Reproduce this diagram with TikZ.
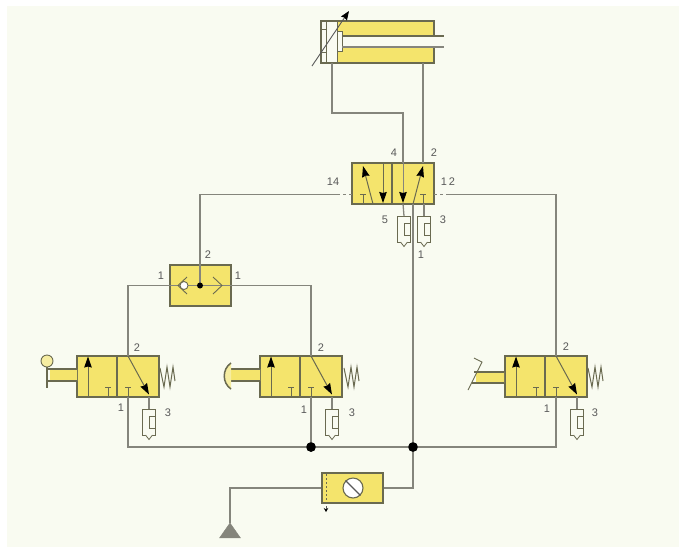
\documentclass[tikz,border=0pt]{standalone}
\usepackage{fontspec}
\setmainfont{Liberation Sans}
\usepackage{xcolor}
\usepackage{tikz}
\usetikzlibrary{arrows.meta}
\usetikzlibrary{shapes.geometric}
\definecolor{panelbg}{HTML}{F9FBF1}
\definecolor{valveyellow}{HTML}{F4E46C}
\definecolor{valveline}{HTML}{6A6A50}
\definecolor{pipegray}{HTML}{85857C}
\tikzset{pipe/.style={draw=pipegray, line width=1.3pt},
         box/.style={draw=valveline, fill=valveyellow, line width=1.2pt, inner sep=0pt},
         flow/.style={draw=valveline, line width=1pt, -{Stealth[length=11pt,width=7.5pt,inset=1pt,black]}},
         thin part/.style={draw=valveline, line width=0.9pt},
         num/.style={font=\fontsize{11}{12}\selectfont, text=black!65, inner sep=0pt},
         junction/.style={circle, fill=black, inner sep=0pt, minimum size=9.5pt},
         % 3/2 valve, placed by the left end of its middle line
         valve three/.pic={
           \node[box, minimum width=82pt, minimum height=41pt] (-box) at (41,0) {};
           \draw[thin part, line width=1.2pt] (40,-20.5) -- (40,20.5);
           \draw[flow] (11,20.5) -- (11,-20);
           \draw[thin part] (31,20.5) -- (31,10.5) (28,10.5) -- (34,10.5);
           \draw[thin part] (51,20.5) -- (51,10.5) (48,10.5) -- (54,10.5);
           \draw[flow] (51,-20.5) -- (72,18);
           \coordinate (-p2) at (51,-20.5);
           \coordinate (-p1) at (51,20.5);
           \coordinate (-p3) at (72,20.5);
         },
         % silencer on an exhaust port, placed by its upper middle
         exhaust/.pic={
           \node[draw=valveline, fill=panelbg, line width=0.8pt, minimum width=13pt, minimum height=26pt, inner sep=0pt] (-box) at (0,13) {};
           \draw[thin part, line width=0.8pt] (6.5,7) -- (0,7) -- (0,19) -- (6.5,19);
           \draw[thin part, line width=0.8pt, fill=panelbg] (-3.5,26) -- (0,30.5) -- (3.5,26);
           \coordinate (-top) at (0,0);
         },
         spring/.pic={
           \draw[thin part, line width=1pt] (0,-9) -- (4,10) -- (7,-10) -- (10,10) -- (13,-10) -- (15,4);
         }}

\begin{document}
\begin{tikzpicture}[x=1pt, y=-1pt]
  \useasboundingbox (0,0) rectangle (679,547);
  \fill[white] (0,0) rectangle (679,547);
  \fill[panelbg] (7,6) rectangle (679,547);

  % cylinder
  \fill[valveyellow] (337,21) rectangle (434,36) (337,47) rectangle (434,63);
  \node[box, fill=none, minimum width=113pt, minimum height=42pt] (cyl) at (377.5,42) {};
  \fill[panelbg] (338,36.5) rectangle (435,46.5);
  \draw[thin part] (337,21) -- (337,63) (326,21) -- (326,63) (321,29) -- (326,29) (321,52) -- (326,52);
  \draw[thin part, fill=panelbg] (337,31) rectangle (342,51);
  \draw[thin part, line width=1.2pt] (342,36) -- (444,36);
  \draw[pipe, line width=1.8pt] (342,47) -- (444,47);
  \draw[thin part, draw=black!65, -{Stealth[length=9pt,width=7pt,inset=1pt,black]}] (312,66) -- (349,11);

  % main valve
  \node[box, minimum width=82pt, minimum height=41pt] (main) at (393,183.5) {};
  \draw[thin part, line width=1.2pt] (392,163) -- (392,204);
  \draw[flow] (373,204) -- (363,166);
  \draw[flow] (383,163) -- (383,203);
  \draw[flow] (413,204) -- (423,166);
  \draw[thin part] (363,204) -- (363,194) (360,194) -- (366,194);
  \draw[thin part] (423,204) -- (423,194) (420,194) -- (426,194);
  \coordinate (main4) at (403,163);
  \coordinate (main2) at (423,163);
  \coordinate (main1) at (413,204);
  \coordinate (main5) at (403,204);
  \coordinate (main3) at (424,204);
  \coordinate (pilotL) at (352,194.5);
  \coordinate (pilotR) at (434,194.5);
  \coordinate (pilotLa) at (337,194.5);
  \coordinate (pilotRa) at (446,194.5);
  \pic (exfive) at (404,216) {exhaust};
  \pic (exthree) at (424,216) {exhaust};

  % shuttle valve
  \node[box, minimum width=61pt, minimum height=41pt] (shuttle) at (200.5,285.5) {};
  \coordinate (shuttleC) at (200,285.5);
  \coordinate (shuttleT) at (200,265);

  % signal valves
  \pic (va) at (77,376.5) {valve three};
  \pic (vb) at (260,376.5) {valve three};
  \pic (vc) at (505,376.5) {valve three};
  \pic (exa) at (149,409) {exhaust};
  \pic (exb) at (332,409) {exhaust};
  \pic (exc) at (577,409) {exhaust};
  \pic at (160,377) {spring};
  \pic at (344,377) {spring};
  \pic at (588,377) {spring};

  % actuators
  \fill[valveyellow] (50,369) rectangle (77,381) (231,369) rectangle (260,381) (476,372) rectangle (504,383);
  \draw[thin part, line width=1.2pt] (47,369) -- (77,369) (47,381) -- (77,381);
  \draw[thin part, line width=1.2pt] (47,367) -- (47,388);
  \node[circle, draw=valveline, fill=valveyellow!60!panelbg, line width=0.9pt, minimum size=12pt, inner sep=0pt] (knob) at (47,361) {};
  \draw[thin part, line width=1.2pt] (229,369) -- (260,369) (229,381) -- (260,381);
  \draw[thin part, line width=1.5pt, fill=valveyellow!60!panelbg] (231,363) .. controls (222,369) and (222,383) .. (231,389);
  \draw[thin part, line width=1.2pt] (474,372) -- (504,372) (472,383) -- (504,383);
  \draw[thin part] (468,390) -- (482,362) -- (474,358);

  % pipes
  \coordinate (cornerA) at (332,113);
  \coordinate (busL) at (128,447);
  \coordinate (busR) at (556,447);
  \node[junction] (jb) at (311,447) {};
  \node[junction] (jm) at (413,447) {};
  \draw[pipe] (332,63) -- (cornerA) -| (main4);
  \draw[pipe] (423,63) -- (main2);
  \draw[flow, draw=pipegray] (main4) -- (403,203);
  \draw[pipe] (main5) -- (exfive-top);
  \draw[pipe] (main3) -- (exthree-top);
  \draw[pipe] (main1) -- (jm);
  \draw[pipe] (pilotLa) -| (shuttleT) -- (shuttleC);
  \draw[pipe, dash pattern=on 3pt off 3pt] (pilotLa) -- (pilotL);
  \draw[pipe, dash pattern=on 3pt off 3pt] (pilotR) -- (pilotRa);
  \draw[pipe] (pilotRa) -| (vc-p2);
  \draw[pipe] (va-p2) |- (shuttleC);
  \draw[pipe] (shuttleC) -| (vb-p2);
  \draw[pipe] (va-p1) -- (busL) -- (busR) -- (vc-p1);
  \draw[pipe] (vb-p1) -- (jb);
  \draw[pipe] (va-p3) -- (exa-top);
  \draw[pipe] (vb-p3) -- (exb-top);
  \draw[pipe] (vc-p3) -- (exc-top);
  \node[junction] at (jb) {};
  \node[junction] at (jm) {};

  % shuttle details
  \node[circle, draw=valveline, fill=white, line width=0.9pt, minimum size=8pt, inner sep=0pt] (ball) at (184,285.5) {};
  \draw[thin part] (187,277) -- (178,285.5) -- (187,294);
  \draw[thin part] (213,277) -- (222,285.5) -- (213,294);
  \node[circle, fill=black, inner sep=0pt, minimum size=6pt] (shuttledot) at (shuttleC) {};

  % service unit
  \node[box, minimum width=61pt, minimum height=30pt] (unit) at (352.5,488) {};
  \node[circle, draw=valveline, fill=white, line width=1.1pt, minimum size=20pt, inner sep=0pt] (dial) at (353,488) {};
  \draw[thin part, line width=1.3pt, draw=black!65] (dial.north west) -- (dial.south east);
  \draw[thin part, dash pattern=on 2pt off 2pt] (326,474) -- (326,503);
  \draw[thin part, draw=black!65, -{Stealth[length=4pt,width=4.5pt,black]}] (326,506) -- (326,512);
  \node[isosceles triangle, isosceles triangle apex angle=70, shape border rotate=90, fill=pipegray, draw=pipegray, minimum height=15pt, inner sep=0pt] (source) at (230,532.5) {};
  \draw[pipe] (jm) |- (unit.east);
  \draw[pipe] (unit.west) -| (source.north);

  % labels
  \node[num] (l4) at (394,153) {4};
  \node[num] (l2) at (434,153) {2};
  \node[num] (l14) at (333,182) {14};
  \node[num] (l12) at (448,182) {1\,2};
  \node[num] (l5) at (385,220) {5};
  \node[num] (l3) at (443,220) {3};
  \node[num] (l1) at (421,255) {1};
  \node[num] (ls2) at (208,255) {2};
  \node[num] (ls1) at (161,276) {1};
  \node[num] (ls3) at (238,276) {1};
  \node[num] (la2) at (137,348) {2};
  \node[num] (la1) at (121,408) {1};
  \node[num] (la3) at (168,413) {3};
  \node[num] (lb2) at (321,348) {2};
  \node[num] (lb1) at (304,410) {1};
  \node[num] (lb3) at (352,413) {3};
  \node[num] (lc2) at (566,347) {2};
  \node[num] (lc1) at (547,409) {1};
  \node[num] (lc3) at (595,413) {3};
\end{tikzpicture}
\end{document}
